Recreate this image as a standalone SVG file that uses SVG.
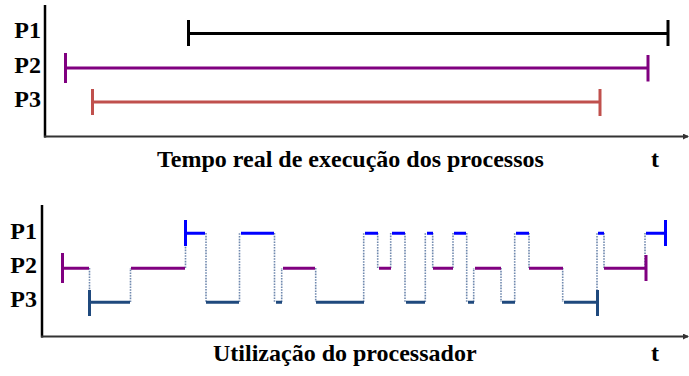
<svg xmlns="http://www.w3.org/2000/svg" width="689" height="376" viewBox="0 0 689 376">
<defs>
<marker id="arr" markerWidth="6" markerHeight="6" refX="5" refY="3" orient="auto" markerUnits="userSpaceOnUse">
<path d="M0,0 L6,3 L0,6 Z" fill="#333"/>
</marker>
<style>
.lbl{font-family:"Liberation Serif","Times New Roman",serif;font-weight:bold;font-size:24px;fill:#000}
.vax{stroke:#000;stroke-width:2.5;fill:none}
.hax{stroke:#333;stroke-width:2;fill:none}
.bar{stroke-width:3;fill:none;stroke-linecap:butt}
.k{stroke:#000}
.pu{stroke:#800080}
.rd{stroke:#C0504D}
.bl{stroke:#0000FF}
.nv{stroke:#1F497D}
.tr{stroke:#6F88AD;stroke-width:1.6;stroke-dasharray:1.6 1.2;fill:none}
</style>
</defs>
<rect width="689" height="376" fill="#fff"/>

<g id="chart-real">
<line class="vax" x1="45" y1="5" x2="45" y2="137.5"/>
<line class="hax" x1="44" y1="136.5" x2="688" y2="136.5" marker-end="url(#arr)"/>
<text class="lbl" x="41" y="38" text-anchor="end">P1</text>
<text class="lbl" x="41" y="72.5" text-anchor="end">P2</text>
<text class="lbl" x="41" y="106.5" text-anchor="end">P3</text>
<text class="lbl" x="157" y="167">Tempo real de execução dos processos</text>
<text class="lbl" x="655" y="167" text-anchor="middle">t</text>
</g>

<g id="real-P1" class="bar k">
<line x1="188" y1="33.5" x2="668" y2="33.5"/>
<line x1="188.5" y1="20" x2="188.5" y2="46"/>
<line x1="668" y1="20" x2="668" y2="46"/>
</g>
<g id="real-P2" class="bar pu">
<line x1="65" y1="68" x2="648" y2="68"/>
<line x1="65.5" y1="53" x2="65.5" y2="83"/>
<line x1="648" y1="55" x2="648" y2="81.5"/>
</g>
<g id="real-P3" class="bar rd">
<line x1="92" y1="102" x2="600" y2="102"/>
<line x1="92.5" y1="89" x2="92.5" y2="115"/>
<line x1="600" y1="89" x2="600" y2="116"/>
</g>

<g id="chart-cpu">
<line class="vax" x1="42" y1="205" x2="42" y2="337.5"/>
<line class="hax" x1="41" y1="336.5" x2="688" y2="336.5" marker-end="url(#arr)"/>
<text class="lbl" x="37" y="238.5" text-anchor="end">P1</text>
<text class="lbl" x="37" y="272.5" text-anchor="end">P2</text>
<text class="lbl" x="37" y="307" text-anchor="end">P3</text>
<text class="lbl" x="213" y="360.5">Utilização do processador</text>
<text class="lbl" x="655" y="360.5" text-anchor="middle">t</text>
</g>

<g id="connectors" class="tr">
<line x1="89.5" y1="268" x2="89.5" y2="302"/>
<line x1="130.5" y1="302" x2="130.5" y2="268"/>
<line x1="185.5" y1="268" x2="185.5" y2="233"/>
<line x1="206" y1="233" x2="206" y2="302"/>
<line x1="239.5" y1="302" x2="239.5" y2="233"/>
<line x1="274.5" y1="233" x2="274.5" y2="302"/>
<line x1="281.7" y1="302" x2="281.7" y2="268"/>
<line x1="315.7" y1="268" x2="315.7" y2="302"/>
<line x1="363.7" y1="302" x2="363.7" y2="233"/>
<line x1="377.7" y1="233" x2="377.7" y2="268"/>
<line x1="390.7" y1="268" x2="390.7" y2="233"/>
<line x1="405" y1="233" x2="405" y2="302"/>
<line x1="425.3" y1="302" x2="425.3" y2="233"/>
<line x1="432.7" y1="233" x2="432.7" y2="268"/>
<line x1="453" y1="268" x2="453" y2="233"/>
<line x1="466.7" y1="233" x2="466.7" y2="302"/>
<line x1="473.7" y1="302" x2="473.7" y2="268"/>
<line x1="501" y1="268" x2="501" y2="302"/>
<line x1="514.7" y1="302" x2="514.7" y2="233"/>
<line x1="529" y1="233" x2="529" y2="268"/>
<line x1="562.7" y1="268" x2="562.7" y2="302"/>
<line x1="597" y1="302" x2="597" y2="233"/>
<line x1="604" y1="233" x2="604" y2="268"/>
<line x1="645" y1="268" x2="645" y2="233"/>
</g>

<g id="cpu-P2" class="bar pu">
<line x1="62.5" y1="253" x2="62.5" y2="283"/>
<path d="M62,268.3H89 M131,268.3H185 M283,268.3H315 M379,268.3H391 M433,268.3H453 M475,268.3H501 M529,268.3H563 M604,268.3H646"/>
<line x1="646" y1="255" x2="646" y2="281"/>
</g>
<g id="cpu-P3" class="bar nv">
<line x1="89.5" y1="290" x2="89.5" y2="316"/>
<path d="M89,302.3H130 M206,302.3H239 M276,302.3H282 M316,302.3H364 M406,302.3H425 M468,302.3H474 M502,302.3H515 M564,302.3H597"/>
<line x1="597.5" y1="290" x2="597.5" y2="316"/>
</g>
<g id="cpu-P1" class="bar bl">
<line x1="185.5" y1="220" x2="185.5" y2="246"/>
<path d="M185,233.3H205 M241,233.3H274 M365,233.3H378 M392,233.3H405 M427,233.3H433 M454,233.3H466 M516,233.3H529 M598,233.3H604 M646,233.3H665"/>
<line x1="665.5" y1="220" x2="665.5" y2="246"/>
</g>
</svg>
